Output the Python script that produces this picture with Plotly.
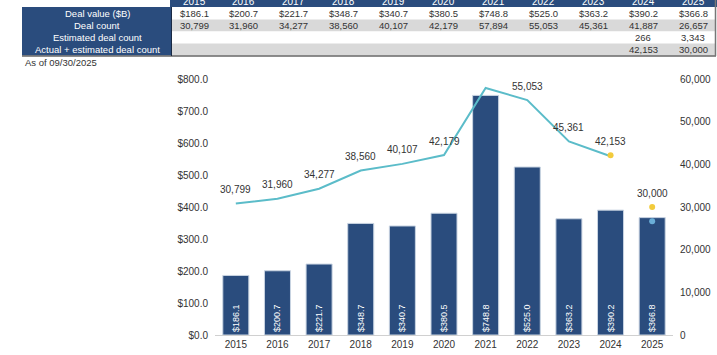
import plotly.graph_objects as go

years = ["2015", "2016", "2017", "2018", "2019", "2020", "2021", "2022", "2023", "2024", "2025"]
deal_value = [186.1, 200.7, 221.7, 348.7, 340.7, 380.5, 748.8, 525.0, 363.2, 390.2, 366.8]
deal_count = [30799, 31960, 34277, 38560, 40107, 42179, 57894, 55053, 45361, 41887, 26657]
est_count = [None] * 9 + [266, 3343]
act_est_count = [None] * 9 + [42153, 30000]
row_labels = ["Deal value ($B)", "Deal count", "Estimated deal count", "Actual + estimated deal count"]

NAVY = "#2A4C7D"
TEAL = "#5BBCC9"
YELLOW = "#F2CB3C"
LBLUE = "#6AAED8"
TXT = "#333333"
FONT = "Liberation Sans, Arial, sans-serif"

W, H = 717, 355
L, R, T, B = 215, 44, 79, 20
PW, PH = W - L - R, H - T - B

xi = list(range(len(years)))


def px(x):
    return (x - L) / PW


def py(y):
    return (H - B - y) / PH


fig = go.Figure()

fig.add_trace(go.Bar(
    x=xi, y=deal_value, name="Deal value ($B)", width=0.625,
    marker=dict(color=NAVY, line=dict(color="#C9D4E2", width=1)),
    text=[f"${v:,.1f}" for v in deal_value], textposition="inside",
    insidetextanchor="start", textangle=-90,
    textfont=dict(color="white", size=9, family=FONT),
    constraintext="none", cliponaxis=False, hoverinfo="skip",
))

fig.add_trace(go.Scatter(
    x=xi[:10], y=deal_count[:10], mode="lines", yaxis="y2",
    line=dict(color=TEAL, width=2), hoverinfo="skip", name="Deal count",
))
fig.add_trace(go.Scatter(
    x=[xi[10]], y=[deal_count[10]], mode="markers", yaxis="y2",
    marker=dict(color=LBLUE, size=6), hoverinfo="skip", name="Deal count 2025",
))
fig.add_trace(go.Scatter(
    x=xi[9:], y=act_est_count[9:], mode="markers", yaxis="y2",
    marker=dict(color=YELLOW, size=6), hoverinfo="skip", name="Actual + estimated",
))

# line labels
for i in xi:
    if i == 6:
        continue
    v = deal_count[i] if i < 9 else act_est_count[i]
    fig.add_annotation(x=i, y=v, xref="x", yref="y2", text=f"{v:,}", showarrow=False,
                       yshift=14, xanchor="center", yanchor="middle",
                       font=dict(size=10, color=TXT, family=FONT))

shapes = []
annos = []
# table
x0_lab, x1_lab = 22, 172
col_w = 49.9
col_c = [194 + col_w * i for i in xi]
data_x0, data_x1 = 170, 716
rows_y = [(7, 19.5), (19.5, 31.5), (31.5, 43.5), (43.5, 55.5)]


def rect(x0, y0, x1, y1, color):
    shapes.append(dict(type="rect", xref="paper", yref="paper",
                       x0=px(x0), x1=px(x1), y0=py(y1), y1=py(y0),
                       fillcolor=color, line=dict(width=0), layer="below"))


rect(data_x0, -2, W, 7, NAVY)
for r, (a, b) in enumerate(rows_y):
    rect(data_x0, a, data_x1, b, "#FFFFFF" if r % 2 == 0 else "#D9D9D9")
rect(x0_lab, 7, x1_lab, 55.5, NAVY)
shapes.append(dict(type="line", xref="paper", yref="paper", x0=px(x0_lab), x1=px(W - 1),
                   y0=py(56), y1=py(56), line=dict(color="#666666", width=1.5)))
shapes.append(dict(type="line", xref="paper", yref="paper", x0=px(715.5), x1=px(715.5),
                   y0=py(0), y1=py(56), line=dict(color="#777777", width=1.5)))
shapes.append(dict(type="line", xref="paper", yref="paper", x0=px(171.5), x1=px(171.5),
                   y0=py(7), y1=py(56), line=dict(color="#1A2A44", width=1)))

for i in xi:
    annos.append(dict(x=px(col_c[i]), y=py(1), text=years[i],
                      font=dict(size=10, color="white", family=FONT)))
for r, lab in enumerate(row_labels):
    cy = (rows_y[r][0] + rows_y[r][1]) / 2
    annos.append(dict(x=px((x0_lab + x1_lab) / 2), y=py(cy), text=lab,
                      font=dict(size=9.5, color="white", family=FONT)))
rows_vals = [
    [f"${v:,.1f}" for v in deal_value],
    [f"{v:,}" for v in deal_count],
    [("" if v is None else f"{v:,}") for v in est_count],
    [("" if v is None else f"{v:,}") for v in act_est_count],
]
for r, vals in enumerate(rows_vals):
    cy = (rows_y[r][0] + rows_y[r][1]) / 2
    for i, t in enumerate(vals):
        if t:
            annos.append(dict(x=px(col_c[i]), y=py(cy), text=t,
                              font=dict(size=9.5, color=TXT, family=FONT)))

for a in annos:
    fig.add_annotation(showarrow=False, xref="paper", yref="paper",
                       xanchor="center", yanchor="middle", **a)
fig.add_annotation(x=px(23), y=py(62.5), text="As of 09/30/2025", showarrow=False,
                   xanchor="left", yanchor="middle", xref="paper", yref="paper",
                   font=dict(size=9.5, color=TXT, family=FONT))

fig.update_layout(
    width=W, height=H, margin=dict(l=L, r=R, t=T, b=B, autoexpand=False),
    paper_bgcolor="white", plot_bgcolor="white", showlegend=False,
    shapes=shapes,
    font=dict(family=FONT, size=10, color=TXT),
    xaxis=dict(range=[-0.5, 10.5], tickmode="array", tickvals=xi, ticktext=years,
               showgrid=False, showline=True, linecolor="#D0D0D0", linewidth=1,
               ticks="", tickfont=dict(size=10, color=TXT), zeroline=False),
    yaxis=dict(range=[0, 800], dtick=100, tickformat="$,.1f", showgrid=False,
               zeroline=False, showline=False, tickfont=dict(size=10, color=TXT),
               ticklabelstandoff=6),
    yaxis2=dict(range=[0, 60000], dtick=10000, tickformat=",", overlaying="y", side="right",
                showgrid=False, zeroline=False, showline=False, tickfont=dict(size=10, color=TXT),
                ticklabelstandoff=6),
)

fig.write_html("out.html", config={"displayModeBar": False},
               post_script="document.body.style.margin='0';document.body.style.overflow='hidden';")
